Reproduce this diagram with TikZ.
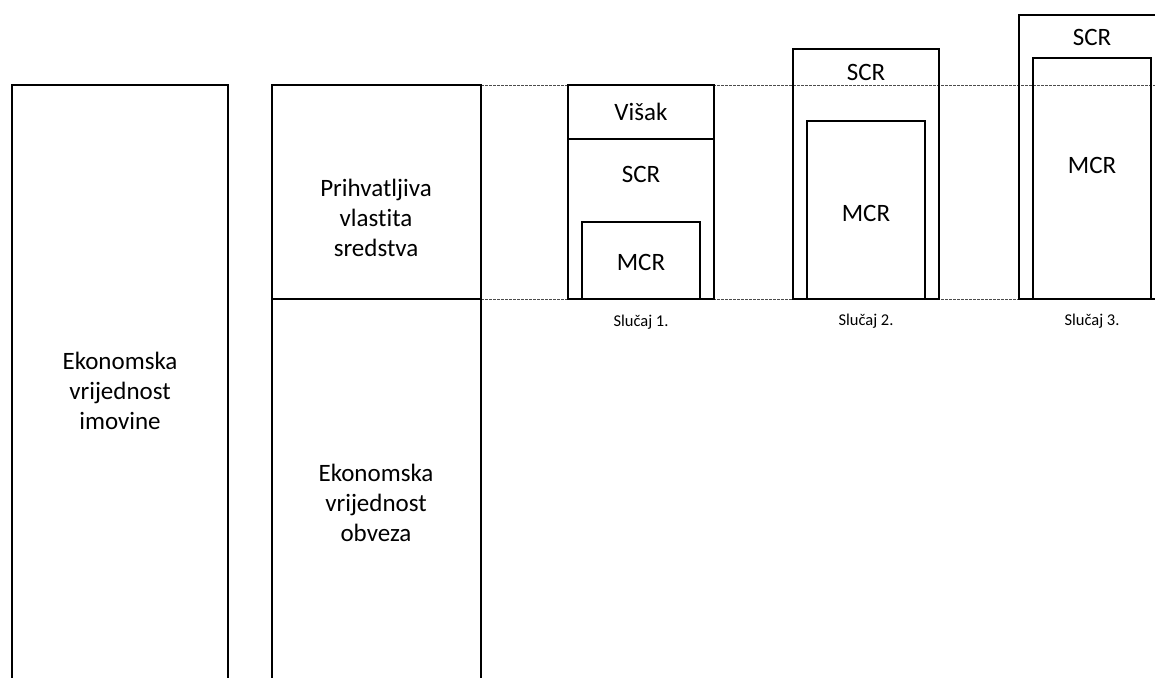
\documentclass[tikz,border=0pt]{standalone}
\usepackage{fontspec}
\setmainfont{Carlito}[Ligatures={NoCommon}]
\usetikzlibrary{positioning}
\tikzset{
  bar/.style={draw=black, line width=1.8pt},
  split/.style={draw=black, line width=1.1pt},
  level/.style={draw=black!70, line width=0.7pt, dash pattern=on 2.5pt off 1.5pt},
  txt/.style={font=\fontsize{25}{30}\selectfont, align=center, inner sep=0pt},
  caption/.style={font=\fontsize{16.5}{19}\selectfont, inner sep=0pt}
}

\begin{document}
\begin{tikzpicture}[x=1pt, y=-1pt]
    \useasboundingbox (0,0) rectangle (1155,677);
    \clip (0,0) rectangle (1155,677);

    % Levels
    \coordinate (topL) at (481,85);
    \coordinate (topR) at (1160,85);
    \coordinate (botL) at (481,299);
    \coordinate (botR) at (1160,299);
    \draw[level] (topL) -- (topR);
    \draw[level] (botL) -- (botR);

    % Assets
    \draw[bar] (12,680) -- (12,85) -- (228,85) -- (228,680);
    \node[txt] (assets) at (120,391) {Ekonomska\\vrijednost\\imovine};

    % Own funds and liabilities
    \draw[bar] (272,680) -- (272,85) -- (481,85) -- (481,680);
    \draw[split] (272,299) -- (481,299);
    \node[txt] (ownfunds) at (376,218) {Prihvatljiva\\vlastita\\sredstva};
    \node[txt] (liab) at (376,503) {Ekonomska\\vrijednost\\obveza};

    % Case 1
    \draw[bar] (568,85) rectangle (714,299);
    \draw[split] (568,139) -- (714,139);
    \draw[bar] (582,222) rectangle (700,299);
    \node[txt] (surplus1) at (641,112) {Višak};
    \node[txt] (scr1) at (641,174) {SCR};
    \node[txt] (mcr1) at (641,262) {MCR};
    \node[caption] (case1) at (641,322) {Slučaj 1.};

    % Case 2
    \draw[bar] (793,49) rectangle (939,299);
    \draw[bar] (807,121) rectangle (925,299);
    \node[txt] (scr2) at (866,72) {SCR};
    \node[txt] (mcr2) at (866,213) {MCR};
    \node[caption] (case2) at (866,321) {Slučaj 2.};

    % Case 3
    \draw[bar] (1019,15) rectangle (1165,299);
    \draw[bar] (1033,58) rectangle (1151,299);
    \node[txt] (scr3) at (1092,37) {SCR};
    \node[txt] (mcr3) at (1092,165) {MCR};
    \node[caption] (case3) at (1092,321) {Slučaj 3.};
\end{tikzpicture}
\end{document}
